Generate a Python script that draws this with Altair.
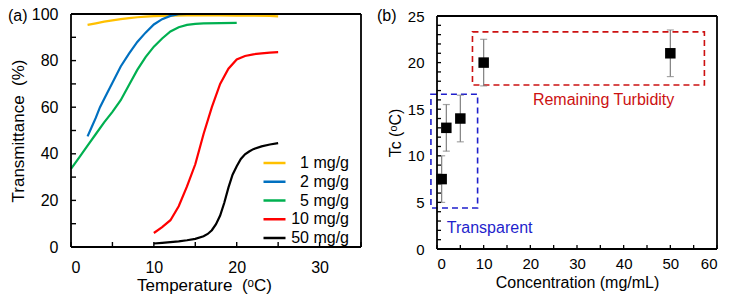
import altair as alt
import pandas as pd

FONT = "Liberation Sans"
INK = "#000000"

# ---------------- Panel (a) data ----------------
series_names = ["1 mg/g", "2 mg/g", "5 mg/g", "10 mg/g", "50 mg/g"]
series_colors = ["#FFC000", "#0070C0", "#00B050", "#FF0000", "#000000"]

t_1 = [2, 3, 4, 5, 6, 7, 8, 9, 10, 12, 14, 16, 18, 20, 22, 24, 25]
v_1 = [95.3, 96.0, 96.7, 97.3, 97.8, 98.2, 98.6, 98.9, 99.1, 99.3, 99.4, 99.4, 99.4, 99.3, 99.3, 99.2, 99.0]

t_2 = [2, 2.5, 3, 3.5, 4, 5, 6, 7, 8, 9, 10, 11, 12, 13, 14, 16, 18, 20, 22, 25]
v_2 = [47.5, 51.5, 55.5, 60, 63.5, 70.5, 77.5, 83, 88, 92, 95.5, 97.8, 99.2, 99.9, 100, 100, 100, 100, 100, 100]

t_5 = [0, 1, 2, 3, 4, 5, 6, 7, 8, 9, 10, 11, 12, 13, 14, 15, 16, 18, 20]
v_5 = [33.5, 38.5, 43.5, 48.5, 53.5, 58, 63, 69.5, 76, 81.5, 86, 89.5, 92.5, 94.3, 95.3, 95.8, 96, 96.1, 96.2]

t_10 = [10, 11, 12, 13, 14, 15, 16, 17, 18, 19, 20, 21, 22, 23, 24, 25]
v_10 = [6, 8.5, 11.5, 17.5, 26, 35.5, 48.5, 60, 70, 76.5, 80.5, 82, 82.7, 83.1, 83.4, 83.6]

t_50 = [10, 11, 12, 13, 14, 15, 16, 16.5, 17, 17.5, 18, 18.5, 19, 19.5, 20, 20.5, 21, 21.5, 22, 23, 24, 25]
v_50 = [1.5, 1.8, 2.1, 2.4, 2.9, 3.5, 4.6, 5.6, 7.2, 9.8, 13.5, 19, 25.5, 31, 34.7, 37.8, 39.8, 41, 42, 43.2, 44, 44.6]

# axis ranges, labels and tick values of panel (a)
a_x_domain = [0, 35]
a_y_domain = [0, 100]
a_x_labels = [0, 10, 20, 30]
a_y_labels = [0, 20, 40, 60, 80, 100]
a_x_ticks = [0, 5, 10, 15, 20, 25, 30, 35]
a_y_ticks = [0, 10, 20, 30, 40, 50, 60, 70, 80, 90, 100]

# ---------------- Panel (b) data ----------------
conc = [1, 2, 5, 10, 50]
tc = [7.5, 13, 14, 20, 21]
tc_err = [2.5, 2.5, 2.5, 2.5, 2.5]

box_labels = ["Transparent", "Remaining Turbidity"]
box_colors = ["#1F1FCC", "#CC1111"]
box_x1 = [-1.3, 7.6]
box_x2 = [8.7, 57.3]
box_y1 = [4.4, 17.6]
box_y2 = [16.6, 23.3]
label_x = [2.1, 35.7]
label_y = [2.2, 16.0]
label_align = ["left", "center"]

b_x_domain = [0, 60]
b_y_domain = [0, 25]
b_x_labels = [0, 10, 20, 30, 40, 50, 60]
b_y_labels = [0, 5, 10, 15, 20, 25]
b_x_ticks = list(range(0, 61, 5))
b_y_ticks = list(range(0, 26, 1))

# ---------------- build tables ----------------
rows = []
for name, ts, vs in zip(series_names, [t_1, t_2, t_5, t_10, t_50], [v_1, v_2, v_5, v_10, v_50]):
    for i, (t, v) in enumerate(zip(ts, vs)):
        rows.append({"series": name, "T": t, "V": v, "i": i})
df_a = pd.DataFrame(rows)

df_b = pd.DataFrame({"c": conc, "tc": tc, "lo": [a - e for a, e in zip(tc, tc_err)],
                     "hi": [a + e for a, e in zip(tc, tc_err)]})
df_box = pd.DataFrame({"label": box_labels, "col": box_colors, "x1": box_x1, "x2": box_x2,
                       "y1": box_y1, "y2": box_y2, "lx": label_x, "ly": label_y, "al": label_align})


def seg_df(vals, lo, hi):
    return pd.DataFrame({"v": vals, "t0": [lo] * len(vals), "t1": [hi] * len(vals)})


def vertical_segments(df, xs, ys, ax_x, ax_y, width):
    return alt.Chart(df).mark_errorbar(ticks=False, color=INK, thickness=width).encode(
        x=alt.X("v:Q", scale=xs, axis=ax_x), y=alt.Y("t0:Q", scale=ys, axis=ax_y), y2="t1:Q")


def horizontal_segments(df, xs, ys, ax_x, ax_y, width):
    return alt.Chart(df).mark_errorbar(ticks=False, color=INK, thickness=width).encode(
        y=alt.Y("v:Q", scale=ys, axis=ax_y), x=alt.X("t0:Q", scale=xs, axis=ax_x), x2="t1:Q")


common_axis = dict(grid=False, domain=False, ticks=False, labelColor="black", titleColor="black",
                   labelFont=FONT, titleFont=FONT, titleFontWeight="normal", labelOverlap=False)

# ---------------- Panel (a) ----------------
H_A = 233
W_A = 290
xs_a = alt.Scale(domain=a_x_domain, nice=False)
ys_a = alt.Scale(domain=a_y_domain, nice=False)
ta_x_len = 5 * (a_y_domain[1] - a_y_domain[0]) / H_A
ta_y_len = 5 * (a_x_domain[1] - a_x_domain[0]) / W_A

ax_a_x = alt.Axis(values=a_x_labels, labelPadding=12, labelFontSize=16,
                  title="Temperature\u00a0\u00a0(ᵒC)", titleFontSize=17, titlePadding=2, titleX=133,
                  **common_axis)
ax_a_y = alt.Axis(values=a_y_labels, labelPadding=13, labelFontSize=16,
                  title="Transmittance\u00a0\u00a0(%)", titleFontSize=17, titlePadding=4,
                  **common_axis)

lines = alt.Chart(df_a).mark_line(strokeWidth=2.2).encode(
    x=alt.X("T:Q", scale=xs_a, axis=ax_a_x),
    y=alt.Y("V:Q", scale=ys_a, axis=ax_a_y),
    color=alt.Color("series:N", scale=alt.Scale(domain=series_names, range=series_colors),
                    legend=alt.Legend(title=None, orient="none", legendX=191, legendY=141,
                                      symbolType="stroke", symbolSize=484, symbolStrokeWidth=2.5,
                                      clipHeight=16, labelFontSize=16, labelFont=FONT, labelColor="black",
                                      labelAlign="right", labelOffset=62, rowPadding=2.75, padding=0)),
    order=alt.Order("i:Q"),
)

frame_a_v = vertical_segments(seg_df(a_x_domain, a_y_domain[0], a_y_domain[1]), xs_a, ys_a, ax_a_x, ax_a_y, 1.8)
frame_a_h = horizontal_segments(seg_df(a_y_domain, a_x_domain[0], a_x_domain[1]), xs_a, ys_a, ax_a_x, ax_a_y, 1.8)
xt_a = vertical_segments(seg_df(a_x_ticks, a_y_domain[0], a_y_domain[0] + ta_x_len), xs_a, ys_a, ax_a_x, ax_a_y, 1.4)
yt_a = horizontal_segments(seg_df(a_y_ticks, a_x_domain[0], a_x_domain[0] + ta_y_len), xs_a, ys_a, ax_a_x, ax_a_y, 1.4)

tag_a = alt.Chart(pd.DataFrame({"t": ["(a)"]})).mark_text(
    fontSize=16, font=FONT, align="left", baseline="middle", color="black").encode(
    text="t:N", x=alt.value(-63), y=alt.value(2))

panel_a = alt.layer(lines, frame_a_v, frame_a_h, xt_a, yt_a, tag_a).properties(width=W_A, height=H_A)

# ---------------- Panel (b) ----------------
H_B = 235
W_B = 280
xs_b = alt.Scale(domain=b_x_domain, nice=False)
ys_b = alt.Scale(domain=b_y_domain, nice=False, range=[H_B, 2])
tb_x_len = 4 * (b_y_domain[1] - b_y_domain[0]) / (H_B - 2)
tb_y_len = 4 * (b_x_domain[1] - b_x_domain[0]) / W_B

ax_b_x = alt.Axis(values=b_x_labels, labelPadding=7, labelFontSize=15,
                  title="Concentration (mg/mL)", titleFontSize=16, titlePadding=3, **common_axis)
ax_b_y = alt.Axis(values=b_y_labels, labelPadding=13, labelFontSize=15,
                  title="Tc (ᵒC)", titleFontSize=16, titlePadding=4, **common_axis)

boxes = alt.Chart(df_box).mark_rect(fillOpacity=0, strokeWidth=1.6, strokeDash=[6, 4]).encode(
    x=alt.X("x1:Q", scale=xs_b, axis=ax_b_x), x2="x2:Q",
    y=alt.Y("y1:Q", scale=ys_b, axis=ax_b_y), y2="y2:Q",
    stroke=alt.Stroke("col:N", scale=None),
)

errs = alt.Chart(df_b).mark_errorbar(ticks=alt.MarkConfig(size=7), color="#7F7F7F", thickness=1.2).encode(
    x=alt.X("c:Q", scale=xs_b, axis=ax_b_x),
    y=alt.Y("lo:Q", scale=ys_b, axis=ax_b_y),
    y2="hi:Q",
)

pts = alt.Chart(df_b).mark_square(size=110, color="black", opacity=1).encode(
    x=alt.X("c:Q", scale=xs_b, axis=ax_b_x),
    y=alt.Y("tc:Q", scale=ys_b, axis=ax_b_y),
)

box_text_l = alt.Chart(df_box).transform_filter(alt.datum.al == "left").mark_text(
    fontSize=16, font=FONT, align="left", baseline="middle").encode(
    x=alt.X("lx:Q", scale=xs_b, axis=ax_b_x), y=alt.Y("ly:Q", scale=ys_b, axis=ax_b_y),
    text="label:N", color=alt.Color("col:N", scale=None))
box_text_c = alt.Chart(df_box).transform_filter(alt.datum.al == "center").mark_text(
    fontSize=16, font=FONT, align="center", baseline="middle").encode(
    x=alt.X("lx:Q", scale=xs_b, axis=ax_b_x), y=alt.Y("ly:Q", scale=ys_b, axis=ax_b_y),
    text="label:N", color=alt.Color("col:N", scale=None))

frame_b_v = vertical_segments(seg_df(b_x_domain, b_y_domain[0], b_y_domain[1]), xs_b, ys_b, ax_b_x, ax_b_y, 1.8)
frame_b_h = horizontal_segments(seg_df(b_y_domain, b_x_domain[0], b_x_domain[1]), xs_b, ys_b, ax_b_x, ax_b_y, 1.8)
xt_b = vertical_segments(seg_df(b_x_ticks, b_y_domain[0], b_y_domain[0] + tb_x_len), xs_b, ys_b, ax_b_x, ax_b_y, 1.3)
yt_b = horizontal_segments(seg_df(b_y_ticks, b_x_domain[0], b_x_domain[0] + tb_y_len), xs_b, ys_b, ax_b_x, ax_b_y, 1.3)

tag_b = alt.Chart(pd.DataFrame({"t": ["(b)"]})).mark_text(
    fontSize=16, font=FONT, align="left", baseline="middle", color="black").encode(
    text="t:N", x=alt.value(-60), y=alt.value(2))

panel_b = alt.layer(boxes, errs, pts, box_text_l, box_text_c, frame_b_v, frame_b_h, xt_b, yt_b,
                    tag_b).properties(width=W_B, height=H_B)

chart = alt.hconcat(panel_a, panel_b, spacing=13).properties(
    padding={"left": -1, "top": -3, "right": 0, "bottom": 0}
).configure(font=FONT).configure_view(stroke="transparent")

chart.save("out.html", embed_options={"renderer": "svg", "actions": False})
